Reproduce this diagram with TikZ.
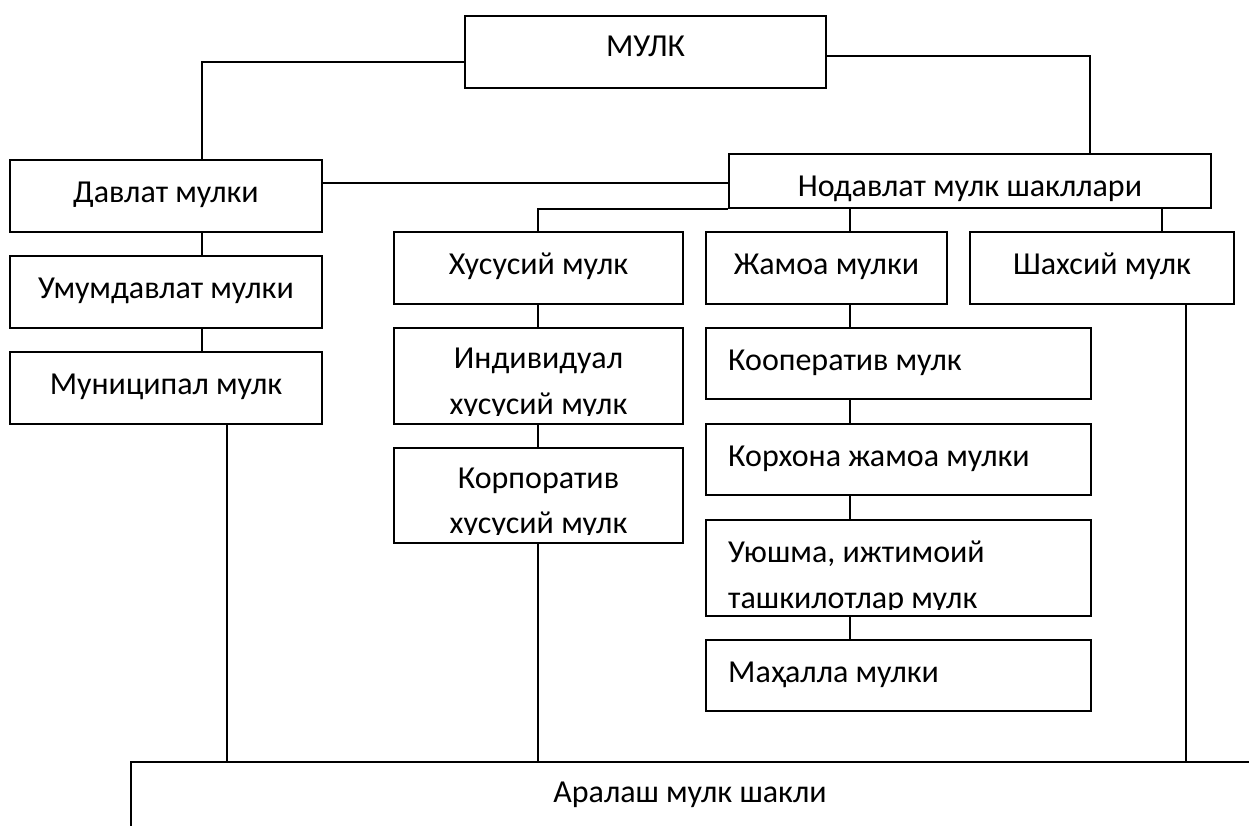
\documentclass[tikz,border=0pt]{standalone}
\usepackage{fontspec}
\setmainfont{Carlito}
\newcommand{\boxfont}{\fontsize{32}{38}\selectfont}
\begin{document}
\begin{tikzpicture}[x=1pt,y=-1pt,
  box/.style={draw, line width=1.8pt, inner sep=0pt, text height=20pt, text depth=7.5pt, font=\boxfont},
  txt/.style={inner sep=0pt, font=\boxfont},
  conn/.style={line width=1.8pt}]
\useasboundingbox (0,0) rectangle (1249,826);
\fill[white] (0,0) rectangle (1249,826);

% boxes
\node[box, minimum width=361pt, minimum height=72pt, text height=16.1pt] (mulk) at (645.5,52) {МУЛК};
\node[box, minimum width=312pt, minimum height=72pt] (davlat) at (166,196) {Давлат мулки};
\node[box, minimum width=312pt, minimum height=72pt] (umum) at (166,292) {Умумдавлат мулки};
\node[box, minimum width=312pt, minimum height=72pt] (munic) at (166,388) {Муниципал мулк};
\node[box, minimum width=482pt, minimum height=54pt, text height=38.1pt] (nodav) at (970,181) {Нодавлат мулк шакллари};
\node[box, minimum width=289pt, minimum height=72pt] (xusus) at (538.5,268) {Хусусий мулк};
\node[box, minimum width=241pt, minimum height=72pt] (jamoa) at (826.5,268) {Жамоа мулки};
\node[box, minimum width=264pt, minimum height=72pt] (shaxs) at (1102,268) {Шахсий мулк};
\node[box, minimum width=289pt, minimum height=96pt] (indiv) at (538.5,376) {};
\node[box, minimum width=289pt, minimum height=95pt] (korpor) at (538.5,495.5) {};
\node[box, minimum width=385pt, minimum height=71pt] (koop) at (898.5,363.5) {};
\node[box, minimum width=385pt, minimum height=71pt] (korxona) at (898.5,459.5) {};
\node[box, minimum width=385pt, minimum height=96pt] (uyushma) at (898.5,568) {};
\node[box, minimum width=385pt, minimum height=71pt] (mahalla) at (898.5,675.5) {};

% left-aligned texts
\node[txt, anchor=base west] (koopT) at (728,370) {Кооператив мулк};
\node[txt, anchor=base west] (korxonaT) at (728,466) {Корхона жамоа мулки};
\node[txt, anchor=base west] (mahallaT) at (728,682) {Маҳалла мулки};

% two-line texts, clipped at the bottom like the original text boxes
\begin{scope}
\clip (394,328) rectangle (683,415);
\node[txt, anchor=base] (indivA) at (538.5,368) {Индивидуал};
\node[txt, anchor=base] (indivB) at (538.5,414) {хусусий мулк};
\end{scope}
\begin{scope}
\clip (394,448) rectangle (683,534);
\node[txt, anchor=base] (korporA) at (538.5,488) {Корпоратив};
\node[txt, anchor=base] (korporB) at (538.5,533) {хусусий мулк};
\end{scope}
\begin{scope}
\clip (706,520) rectangle (1091,609);
\node[txt, anchor=base west] (uyushmaA) at (728,562) {Уюшма, ижтимоий};
\node[txt, anchor=base west] (uyushmaB) at (728,608) {ташкилотлар мулк};
\end{scope}

% mixed ownership (open frame)
\coordinate (arBL) at (131,826);
\coordinate (arTL) at (131,762);
\coordinate (arTR) at (1249,762);
\draw[conn] (arBL) -- (arTL) -- (arTR);
\node[txt, anchor=base] (aralash) at (690,802) {Аралаш мулк шакли};

% connector guides
\coordinate (vL) at (202,62);
\coordinate (vR) at (1090,56);
\coordinate (hY) at (0,183);
\coordinate (xA) at (538,207);
\coordinate (xB) at (850,0);
\coordinate (xC) at (1162,0);
\coordinate (xD) at (202,0);
\coordinate (xE) at (227,0);
\coordinate (xG) at (1186,0);

% connectors
\draw[conn] (mulk.west |- vL) -- (vL) -- (vL |- davlat.north);
\draw[conn] (mulk.east |- vR) -- (vR) -- (vR |- nodav.north);
\draw[conn] (davlat.east |- hY) -- (nodav.west |- hY);
\draw[conn] (nodav.south west) -- (xA |- nodav.south) -- (xA |- xusus.north);
\draw[conn] (xB |- nodav.south) -- (xB |- jamoa.north);
\draw[conn] (xC |- nodav.south) -- (xC |- shaxs.north);
\draw[conn] (xD |- davlat.south) -- (xD |- umum.north);
\draw[conn] (xD |- umum.south) -- (xD |- munic.north);
\draw[conn] (xE |- munic.south) -- (xE |- arTL);
\draw[conn] (xA |- xusus.south) -- (xA |- indiv.north);
\draw[conn] (xA |- indiv.south) -- (xA |- korpor.north);
\draw[conn] (xA |- korpor.south) -- (xA |- arTL);
\draw[conn] (xB |- jamoa.south) -- (xB |- koop.north);
\draw[conn] (xB |- koop.south) -- (xB |- korxona.north);
\draw[conn] (xB |- korxona.south) -- (xB |- uyushma.north);
\draw[conn] (xB |- uyushma.south) -- (xB |- mahalla.north);
\draw[conn] (xG |- shaxs.south) -- (xG |- arTL);
\end{tikzpicture}
\end{document}
